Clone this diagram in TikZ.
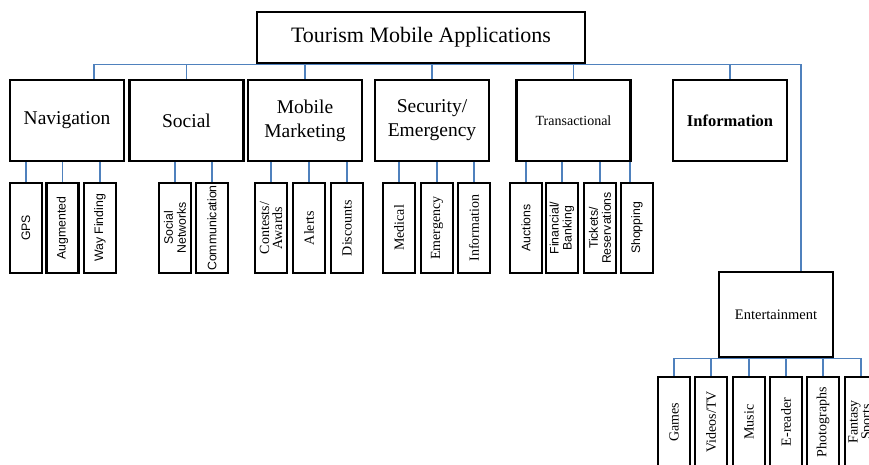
\documentclass[tikz,border=0pt]{standalone}
\usepackage{fontspec}
\setmainfont{Liberation Serif}
\setsansfont{Liberation Sans}
\usepackage{xcolor}
\usepackage{tikz}
\usetikzlibrary{positioning, backgrounds}
\definecolor{linkblue}{RGB}{79,129,189}
\tikzset{
    topbox/.style={
        rectangle,
        draw=black,
        line width=2.6pt,
        fill=white,
        minimum width=328pt,
        minimum height=51pt,
        font=\fontsize{22}{26}\selectfont
    },
    catbox/.style={
        rectangle,
        draw=black,
        line width=2.6pt,
        fill=white,
        align=center,
        minimum width=114pt,
        minimum height=81pt,
        font=\fontsize{19.5}{24}\selectfont
    },
    leafbox/.style={
        rectangle,
        draw=black,
        line width=2.6pt,
        fill=white,
        rotate=90,
        align=center,
        inner sep=1pt,
        minimum width=90pt,
        minimum height=32pt,
        font=\fontsize{14}{13}\selectfont
    },
    leafsans/.style={
        leafbox,
        font=\sffamily\fontsize{12.3}{13}\selectfont
    },
    link/.style={
        draw=linkblue,
        line width=1.3pt
    }
}

\begin{document}
\begin{tikzpicture}[x=1pt, y=-1pt]
\useasboundingbox (0,0) rectangle (869,465);
\clip (0,0) rectangle (869,465);

% Root
\node[topbox] (root) at (421,37.5) {Tourism Mobile Applications};

% Categories
\node[catbox] (nav) at (67,120.5) {Navigation};
\node[catbox] (soc) at (186.5,120.5) {Social};
\node[catbox] (mkt) at (305,120.5) {Mobile\\Marketing};
\node[catbox] (sec) at (432,120.5) {Security/\\Emergency};
\node[catbox, font=\fontsize{14}{17}\selectfont] (trans) at (573.5,120.5) {Transactional};
\node[catbox, font=\bfseries\fontsize{16.5}{20}\selectfont] (info) at (730,120.5) {Information};
\node[catbox, minimum height=85pt, font=\fontsize{14.5}{17}\selectfont] (ent) at (776,314.5) {Entertainment};

% Navigation leaves
\node[leafsans] (gps) at (26,228) {GPS};
\node[leafsans] (aug) at (62.5,228) {Augmented};
\node[leafsans] (way) at (100,228) {Way Finding};

% Social leaves
\node[leafsans] (net) at (175,228) {Social\\Networks};
\node[leafsans] (comm) at (212,228) {Communication};

% Marketing leaves
\node[leafbox] (contest) at (271,228) {Contests/\\Awards};
\node[leafbox] (alert) at (309,228) {Alerts};
\node[leafbox] (disc) at (347,228) {Discounts};

% Security leaves
\node[leafbox] (med) at (399,228) {Medical};
\node[leafbox] (emerg) at (437,228) {Emergency};
\node[leafbox] (secinfo) at (474,228) {Information};

% Transactional leaves
\node[leafsans] (auct) at (526,228) {Auctions};
\node[leafsans] (fin) at (562,228) {Financial/\\Banking};
\node[leafsans] (tick) at (600,228) {Tickets/\\Reservations};
\node[leafsans] (shop) at (637,228) {Shopping};

% Entertainment leaves
\node[leafbox] (games) at (674,422) {Games};
\node[leafbox] (video) at (711,422) {Videos/TV};
\node[leafbox] (music) at (749,422) {Music};
\node[leafbox] (ereader) at (786,422) {E-reader};
\node[leafbox] (photo) at (823,422) {Photographs};
\node[leafbox] (fantasy) at (861,422) {Fantasy\\Sports};

% Connectors
\begin{scope}[on background layer]
\draw[link] ([xshift=27pt]nav.north) |- (root.south);
\draw[link] (soc.north) |- (root.south);
\draw[link] (mkt.north) |- (root.south);
\draw[link] (sec.north) |- (root.south);
\draw[link] (trans.north) |- (root.south);
\draw[link] (info.north) |- (root.south);
\draw[link] ([xshift=25pt]ent.north) |- (root.south);

\draw[link] (gps.east) -- (gps.east |- nav.south);
\draw[link] (aug.east) -- (aug.east |- nav.south);
\draw[link] (way.east) -- (way.east |- nav.south);
\draw[link] (net.east) -- (net.east |- soc.south);
\draw[link] (comm.east) -- (comm.east |- soc.south);
\draw[link] (contest.east) -- (contest.east |- mkt.south);
\draw[link] (alert.east) -- (alert.east |- mkt.south);
\draw[link] (disc.east) -- (disc.east |- mkt.south);
\draw[link] (med.east) -- (med.east |- sec.south);
\draw[link] (emerg.east) -- (emerg.east |- sec.south);
\draw[link] (secinfo.east) -- (secinfo.east |- sec.south);
\draw[link] (auct.east) -- (auct.east |- trans.south);
\draw[link] (fin.east) -- (fin.east |- trans.south);
\draw[link] (tick.east) -- (tick.east |- trans.south);
\draw[link] ([xshift=-7pt]shop.east) -- ([xshift=-7pt]shop.east |- trans.south);

\draw[link] (games.east) |- (ent.south);
\draw[link] (video.east) |- (ent.south);
\draw[link] (music.east) |- (ent.south);
\draw[link] (ereader.east) |- (ent.south);
\draw[link] (photo.east) |- (ent.south);
\draw[link] (fantasy.east) |- (ent.south);
\end{scope}

\end{tikzpicture}
\end{document}
